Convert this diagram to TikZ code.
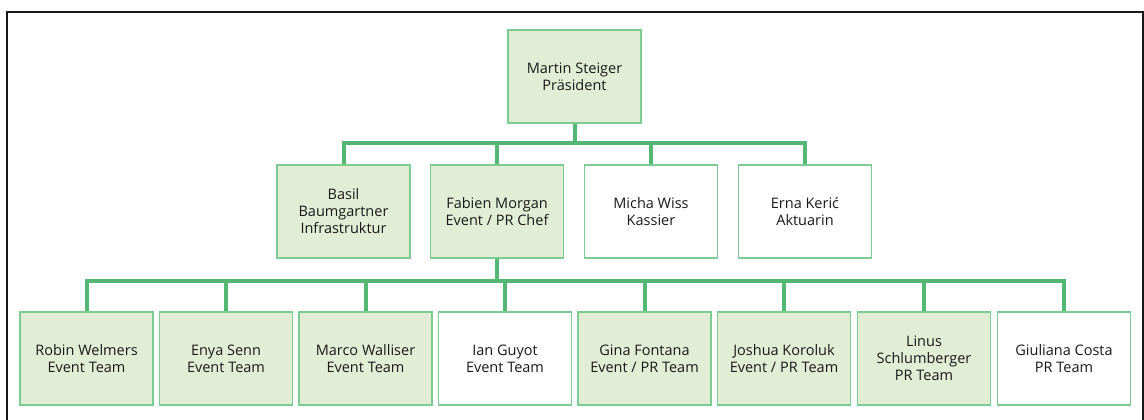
\documentclass[tikz,border=0pt]{standalone}
\usepackage{fontspec}
\setmainfont{Open Sans}
\definecolor{boxfill}{HTML}{E2EDD6}
\definecolor{boxline}{HTML}{7CCB93}
\definecolor{connline}{HTML}{52B873}
\begin{document}
\begin{tikzpicture}[x=1bp,y=-1bp,
  person/.style={draw=boxline, line width=1.6bp, minimum width=133bp, minimum height=93bp,
    inner sep=0pt, align=center, font=\fontsize{14.5bp}{17bp}\selectfont, text=black!90},
  lead/.style={person, fill=boxfill},
  member/.style={person, fill=white},
  conn/.style={draw=connline, line width=4bp, line join=miter}]
\useasboundingbox (0,0) rectangle (1144,419);
\draw[line width=2bp, black!90] (7,425) -- (7,12) -- (1142.5,12) -- (1142.5,425);
% level 1
\node[lead] (martin) at (574.5,76.5) {Martin Steiger\\Präsident};
% level 2
\node[lead] (basil) at (343.5,211.5) {Basil\\Baumgartner\\Infrastruktur};
\node[lead] (fabien) at (497,211.5) {Fabien Morgan\\Event / PR Chef};
\node[member] (micha) at (651,211.5) {Micha Wiss\\Kassier};
\node[member] (erna) at (805,211.5) {Erna Kerić\\Aktuarin};
% level 3
\node[lead] (robin) at (86.5,358.5) {Robin Welmers\\Event Team};
\node[lead] (enya) at (226,358.5) {Enya Senn\\Event Team};
\node[lead] (marco) at (365.5,358.5) {Marco Walliser\\Event Team};
\node[member] (ian) at (505,358.5) {Ian Guyot\\Event Team};
\node[lead] (gina) at (644.5,358.5) {Gina Fontana\\Event / PR Team};
\node[lead] (joshua) at (784,358.5) {Joshua Koroluk\\Event / PR Team};
\node[lead] (linus) at (924,358.5) {Linus\\Schlumberger\\PR Team};
\node[member] (giuliana) at (1064,358.5) {Giuliana Costa\\PR Team};
% connectors
\coordinate (bus1) at (574.5,143);
\coordinate (bus2) at (497,281);
\draw[conn] (martin.south) -- (bus1);
\foreach \c in {basil,fabien,micha,erna} \draw[conn] (bus1) -| (\c.north);
\draw[conn] (fabien.south) -- (bus2);
\foreach \c in {robin,enya,marco,ian,gina,joshua,linus,giuliana} \draw[conn] (bus2) -| (\c.north);
\end{tikzpicture}
\end{document}
